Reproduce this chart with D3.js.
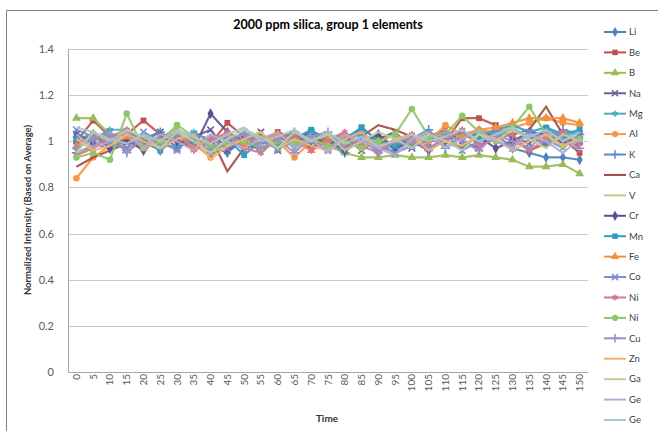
<!DOCTYPE html>
<html>
<head>
<meta charset="utf-8">
<script src="https://cdn.jsdelivr.net/npm/d3@7"></script>
<style>
  body { margin: 0; background: #fff; }
  text { font-family: Lato, "Open Sans", sans-serif; }
</style>
</head>
<body>
<div id="chart"></div>
<script>
// time points (x categories)
var times = [0,5,10,15,20,25,30,35,40,45,50,55,60,65,70,75,80,85,90,95,100,105,110,115,120,125,130,135,140,145,150];
var yTicks = [0, 0.2, 0.4, 0.6, 0.8, 1, 1.2, 1.4];
var seriesNames = ["Li","Be","B","Na","Mg","Al","K","Ca","V","Cr","Mn","Fe","Co","Ni","Ni","Cu","Zn","Ga","Ge","Ge"];

var Li  = [1.03,0.99,0.97,1.02,1.00,0.96,1.02,1.00,0.98,0.95,1.01,1.03,0.97,1.00,1.04,1.00,0.97,1.01,0.96,0.98,1.01,1.03,1.00,0.97,1.03,1.00,0.97,0.95,0.93,0.93,0.92];
var Be  = [1.00,1.09,1.02,1.03,1.09,1.03,1.02,1.00,0.99,1.08,1.02,1.00,1.04,1.01,1.04,1.02,0.99,1.06,1.00,0.99,1.02,1.01,1.00,1.10,1.10,1.07,1.01,0.96,0.99,1.01,0.95];
var B   = [1.10,1.10,1.03,1.00,0.98,1.02,1.05,1.01,1.00,0.99,1.01,1.00,0.98,0.99,1.00,0.98,0.95,0.93,0.93,0.94,0.93,0.93,0.94,0.93,0.94,0.93,0.92,0.89,0.89,0.90,0.86];
var Na  = [1.03,1.00,1.04,0.97,1.01,1.04,0.97,1.02,1.05,0.96,1.01,1.04,0.96,1.02,1.04,0.97,1.02,0.96,1.01,1.04,0.97,1.02,1.05,1.00,0.97,1.05,1.02,0.99,1.05,1.02,1.00];
var Mg  = [0.97,1.01,1.05,1.05,1.00,0.98,0.98,1.04,1.00,1.02,0.96,1.00,1.03,0.97,1.04,1.00,1.02,1.04,0.97,1.00,1.02,0.99,1.04,1.02,1.05,1.02,1.06,1.01,1.05,1.02,1.04];
var Al  = [0.84,0.93,0.98,1.00,0.97,1.02,1.01,0.99,0.93,1.00,0.99,1.01,1.00,0.93,1.00,1.02,0.98,1.00,0.99,1.00,1.02,1.00,1.07,1.03,1.05,1.04,1.06,1.08,1.10,1.08,1.07];
var K   = [0.95,0.98,1.03,0.96,1.00,1.04,0.97,1.01,0.95,1.00,1.03,0.96,1.01,1.04,0.97,1.00,0.95,1.03,1.00,0.96,1.01,1.05,0.97,1.03,1.00,1.04,1.05,1.02,0.99,1.05,1.03];
var Ca  = [0.89,0.93,0.96,0.99,1.00,1.01,1.00,0.99,1.02,0.87,0.97,1.00,1.02,0.99,1.01,1.00,0.97,1.02,1.07,1.05,1.02,1.00,1.01,1.02,1.04,1.02,1.03,1.05,1.15,1.03,0.97];
var V   = [0.95,0.97,1.04,0.96,1.03,0.97,1.05,1.00,0.95,0.98,1.01,1.04,0.96,1.02,0.97,1.01,1.04,0.97,1.01,0.95,1.00,1.03,0.97,1.04,1.00,1.02,0.98,1.04,1.02,0.99,1.04];
var Cr  = [0.99,1.03,0.97,1.01,0.96,1.02,1.00,0.97,1.12,1.04,1.00,0.96,1.01,1.03,0.97,1.01,0.96,1.00,1.03,0.97,1.00,0.96,1.01,1.04,1.02,0.97,1.00,1.04,1.03,0.99,1.02];
var Mn  = [1.01,1.03,1.01,1.04,1.00,0.96,1.03,1.00,0.96,1.01,0.94,1.00,0.98,1.01,1.05,1.00,1.01,1.06,1.00,0.98,1.00,0.97,1.01,1.04,1.02,1.05,1.07,1.04,1.06,1.03,1.05];
var Fe  = [0.98,1.03,1.00,1.02,0.97,1.00,1.04,0.97,1.01,1.03,0.98,1.00,1.03,1.00,0.96,1.01,1.03,0.98,1.00,1.03,0.99,1.02,1.04,1.02,1.05,1.06,1.08,1.10,1.10,1.10,1.08];
var Co  = [1.05,1.02,0.99,0.97,1.04,1.00,0.96,1.03,1.01,0.97,1.04,1.00,0.97,1.03,1.00,0.96,1.01,1.03,0.98,0.95,0.98,1.01,1.03,0.96,1.00,1.03,0.97,1.04,1.01,0.97,1.03];
var Ni  = [0.94,0.97,1.02,1.05,0.98,1.01,1.04,0.96,1.00,1.04,0.97,0.95,1.01,1.03,0.96,1.00,1.04,0.98,0.95,1.01,1.03,0.97,1.01,1.05,0.98,1.01,1.03,0.96,1.01,1.04,0.99];
var Ni2 = [0.93,0.95,0.92,1.12,0.97,1.00,1.07,1.02,0.98,0.99,1.00,0.97,1.00,0.99,1.01,0.98,1.00,0.97,1.00,1.03,1.14,1.02,1.03,1.11,1.04,1.00,1.06,1.15,1.03,0.98,1.01];
var Cu  = [0.97,1.01,1.03,0.95,1.02,0.97,1.03,1.00,0.96,1.01,1.03,0.97,1.01,0.95,1.02,1.04,0.97,1.01,0.95,1.00,1.01,0.96,1.03,1.00,0.96,1.03,1.00,0.97,1.04,1.01,0.97];
var Zn  = [1.01,0.96,0.98,1.03,1.00,0.97,1.01,1.03,0.92,0.98,1.01,1.04,0.97,1.01,0.98,0.96,1.01,1.04,0.97,1.01,1.03,0.96,1.00,0.98,1.03,1.01,0.96,1.00,1.03,0.98,1.01];
var Ga  = [0.95,1.04,1.00,1.05,1.02,0.97,1.04,1.00,0.95,1.01,1.05,1.02,0.97,1.04,1.00,1.03,0.96,1.00,1.04,1.01,0.97,1.03,1.00,0.96,1.03,1.00,1.05,1.01,0.97,1.03,1.00];
var Ge  = [1.03,0.97,1.00,1.04,0.97,1.03,1.00,0.96,1.03,1.00,0.97,1.01,1.04,0.97,1.01,0.95,1.03,1.00,0.97,0.94,1.01,1.04,0.97,1.01,1.05,1.00,0.97,1.03,1.00,0.95,1.01];
var Ge2 = [1.06,1.04,1.01,0.99,1.03,1.00,1.05,1.02,0.99,1.03,1.06,1.00,1.02,1.05,1.00,1.04,0.99,1.02,0.98,1.00,1.03,1.00,1.02,1.05,1.00,1.03,1.06,1.02,1.05,1.00,1.04];

var seriesValues = [Li,Be,B,Na,Mg,Al,K,Ca,V,Cr,Mn,Fe,Co,Ni,Ni2,Cu,Zn,Ga,Ge,Ge2];

var colors = ["#4f81bd","#c0504d","#9bbb59","#6d5a96","#4bacc6","#f79646","#5b8cc8","#a24b45","#b3cf8a","#5f4e96",
              "#2e9dbf","#f2913d","#7a8ccf","#d9748a","#8dc66b","#9c8dc8","#f6b26b","#b9d29a","#b7a9d3","#a8c4cf"];
var symTimes = d3.symbolTimes || d3.symbolCross;
var symPlus = d3.symbolPlus || d3.symbolCross;
var symStar = d3.symbolAsterisk || d3.symbolStar;
var markers = [d3.symbolDiamond, d3.symbolSquare, d3.symbolTriangle, symTimes, symStar, d3.symbolCircle,
               symPlus, null, null, d3.symbolDiamond, d3.symbolSquare, d3.symbolTriangle,
               symTimes, symStar, d3.symbolCircle, symPlus, null, null, null, null];

var svgWidth = 658, svgHeight = 431;
var margin = {top: 49, right: 70, bottom: 59, left: 68};
var width = 588 - margin.left;
var height = 372 - margin.top;

var svg = d3.select("#chart").append("svg")
  .attr("width", svgWidth)
  .attr("height", svgHeight);

// outer chart border (cropped at right and bottom)
svg.append("path")
  .attr("d", "M6.5,431 L6.5,10.5 L658,10.5")
  .attr("fill", "none")
  .attr("stroke", "#7f7f7f")
  .attr("stroke-width", 1);

var chartGroup = svg.append("g")
  .attr("transform", `translate(${margin.left}, ${margin.top})`);

var x = d3.scaleBand().domain(times).range([0, width]);
var y = d3.scaleLinear().domain([0, 1.4]).range([height, 0]);

// gridlines
chartGroup.selectAll(".grid")
  .data(yTicks.slice(1))
  .enter()
  .append("line")
  .attr("x1", 0).attr("x2", width)
  .attr("y1", d => Math.round(y(d)) + 0.5).attr("y2", d => Math.round(y(d)) + 0.5)
  .attr("stroke", "#c8c8c8");

var leftAxis = d3.axisLeft(y).tickValues(yTicks).tickSize(0).tickPadding(14)
  .tickFormat(d => d3.format("")(+d.toFixed(1)));
var gy = chartGroup.append("g").call(leftAxis);
gy.select(".domain").attr("stroke", "#a6a6a6");
gy.selectAll("text").attr("font-size", "11px").attr("fill", "#595959");

var bottomAxis = d3.axisBottom(x).tickSize(0).tickPadding(6);
var gx = chartGroup.append("g")
  .attr("transform", `translate(0, ${height})`)
  .call(bottomAxis);
gx.select(".domain").attr("stroke", "#a6a6a6");
gx.selectAll("text")
  .attr("font-size", "10px")
  .attr("fill", "#595959")
  .attr("text-anchor", "end")
  .attr("dy", "0.35em")
  .attr("transform", "translate(0,-4) rotate(-90)")
  .attr("x", -6)
  .attr("y", 0);

var line = d3.line()
  .x((d, i) => x(times[i]) + x.bandwidth() / 2)
  .y(d => y(d));

seriesValues.forEach(function(vals, s) {
  var g = chartGroup.append("g");
  g.append("path")
    .datum(vals)
    .attr("d", line)
    .attr("fill", "none")
    .attr("stroke", colors[s])
    .attr("stroke-width", 2.2)
    .attr("stroke-opacity", 0.9);
  if (markers[s]) {
    var stroked = (markers[s] === symTimes || markers[s] === symPlus || markers[s] === symStar);
    g.selectAll("path.mk")
      .data(vals)
      .enter()
      .append("path")
      .attr("class", "mk")
      .attr("transform", (d, i) => `translate(${x(times[i]) + x.bandwidth() / 2}, ${y(d)})`)
      .attr("d", d3.symbol().type(markers[s]).size(stroked ? 30 : 34))
      .attr("fill", stroked ? "none" : colors[s])
      .attr("stroke", colors[s])
      .attr("stroke-width", stroked ? 1.6 : 0);
  }
});

// title
svg.append("text")
  .attr("x", 328).attr("y", 29)
  .attr("text-anchor", "middle")
  .attr("font-size", "12.5px")
  .attr("font-weight", "bold")
  .attr("fill", "#000")
  .text("2000 ppm silica, group 1 elements");

// axis titles
svg.append("text")
  .attr("transform", "translate(31, 210) rotate(-90)")
  .attr("text-anchor", "middle")
  .attr("font-size", "9.5px")
  .attr("font-weight", "bold")
  .attr("fill", "#333")
  .text("Normalized Intensity (Based on Average)");

svg.append("text")
  .attr("x", 327).attr("y", 422)
  .attr("text-anchor", "middle")
  .attr("font-size", "10px")
  .attr("font-weight", "bold")
  .attr("fill", "#333")
  .text("Time");

// legend
var legend = svg.append("g");
var legendY = d3.scaleLinear().domain([0, seriesNames.length - 1]).range([32, 420]);
seriesNames.forEach(function(name, s) {
  var ly = legendY(s);
  var item = legend.append("g").attr("transform", `translate(604, ${ly})`);
  item.append("line")
    .attr("x1", 0).attr("x2", 22).attr("y1", 0).attr("y2", 0)
    .attr("stroke", colors[s]).attr("stroke-width", 2);
  if (markers[s]) {
    var stroked = (markers[s] === symTimes || markers[s] === symPlus || markers[s] === symStar);
    item.append("path")
      .attr("transform", "translate(11,0)")
      .attr("d", d3.symbol().type(markers[s]).size(stroked ? 26 : 30))
      .attr("fill", stroked ? "none" : colors[s])
      .attr("stroke", colors[s])
      .attr("stroke-width", stroked ? 1.5 : 0);
  }
  item.append("text")
    .attr("x", 25).attr("y", 0).attr("dy", "0.35em")
    .attr("font-size", "9.5px")
    .attr("fill", "#404040")
    .text(name);
});
</script>
</body>
</html>
